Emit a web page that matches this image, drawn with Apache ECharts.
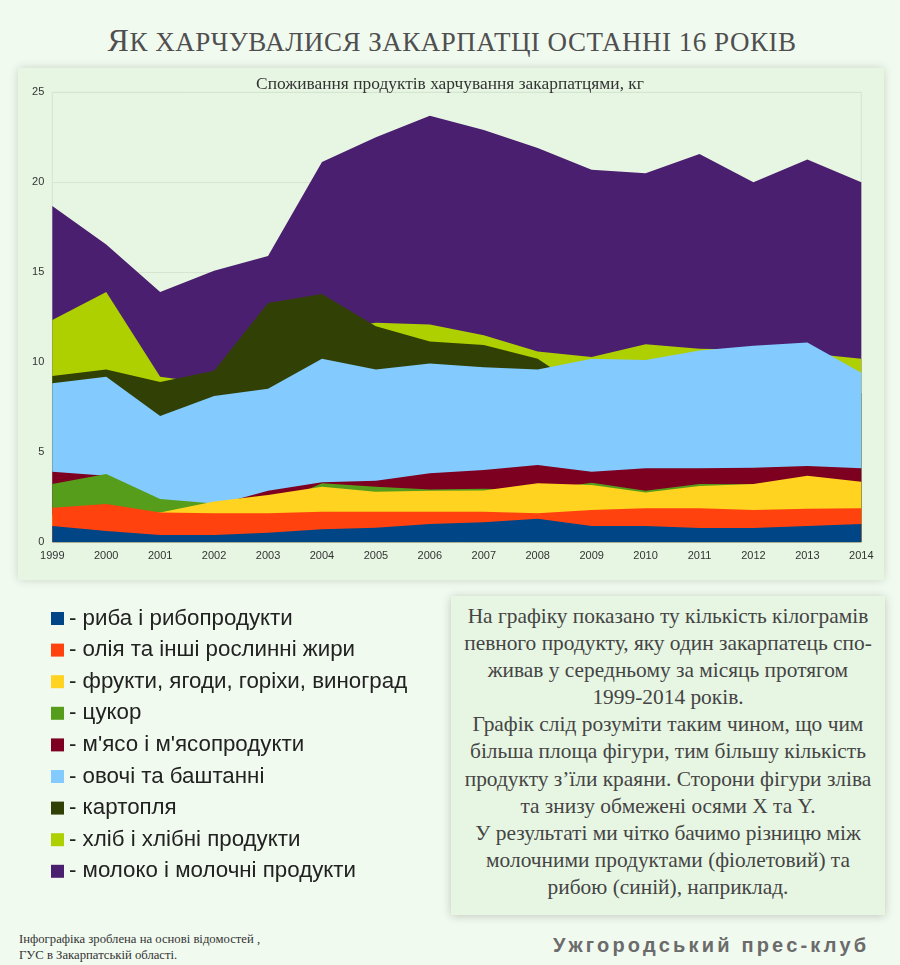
<!DOCTYPE html>
<html>
<head>
<meta charset="utf-8">
<script src="https://cdn.jsdelivr.net/npm/echarts@6/dist/echarts.min.js"></script>
<style>
  html, body { margin:0; padding:0; background:#f1faef; }
  body { width:900px; height:965px; position:relative; overflow:hidden; }
  #title { position:absolute; left:0; width:904px; top:20px; text-align:center; font-family:"Liberation Serif","DejaVu Serif",serif; color:#4f4f4f; line-height:40px; white-space:nowrap; letter-spacing:0.5px; }
  #title .big { font-size:32px; }
  #title .rest { font-size:27px; text-transform:uppercase; }
  #panel { position:absolute; left:18px; top:68px; width:866px; height:512px; background:#e7f6e3; box-shadow:0 0 10px rgba(0,0,0,0.16); border-radius:2px; }
  #note { position:absolute; left:451px; top:596px; width:434px; height:319px; background:#e7f6e3; box-shadow:0 1px 9px rgba(0,0,0,0.2); }
  #note div { position:absolute; left:0; width:434px; top:7px; text-align:center; font-family:"Liberation Serif","DejaVu Serif",serif; font-size:21.4px; line-height:27.1px; color:#444; white-space:nowrap; }
  #chart { position:absolute; left:0; top:0; width:900px; height:965px; }
  #src { position:absolute; left:19px; top:931px; font-family:"Liberation Serif",serif; font-size:12.7px; line-height:16px; color:#333; }
  #brand { position:absolute; left:553px; top:934px; font-family:"Liberation Sans",Arial,sans-serif; font-weight:bold; font-size:20px; letter-spacing:3.2px; color:#6b6b6b; white-space:nowrap; }
</style>
</head>
<body>
<div id="title"><span class="big">Я</span><span class="rest">к харчувалися закарпатці останні 16 років</span></div>
<div id="panel"></div>
<div id="note"><div>На графіку показано ту кількість кілограмів<br>певного продукту, яку один закарпатець спо-<br>живав у середньому за місяць протягом<br>1999-2014 років.<br>Графік слід розуміти таким чином, що чим<br>більша площа фігури, тим більшу кількість<br>продукту з’їли краяни. Сторони фігури зліва<br>та знизу обмежені осями X та Y.<br>У результаті ми чітко бачимо різницю між<br>молочними продуктами (фіолетовий) та<br>рибою (синій), наприклад.</div></div>
<div id="src">Інфографіка зроблена на основі відомостей ,<br>ГУС в Закарпатській області.</div>
<div id="brand">Ужгородський прес-клуб</div>
<div id="chart"></div>
<script>
// Categories (years)
const years = ['1999','2000','2001','2002','2003','2004','2005','2006','2007','2008','2009','2010','2011','2012','2013','2014'];

// Series values, kg per month per person (overlapping areas, not stacked)
const milk   = [18.68, 16.55, 13.90, 15.09, 15.90, 21.13, 22.50, 23.70, 22.90, 21.90, 20.70, 20.50, 21.57, 20.00, 21.27, 20.00];
const bread  = [12.35, 13.90, 9.20, 8.80, 10.50, 11.80, 12.20, 12.10, 11.50, 10.60, 10.30, 11.00, 10.75, 10.70, 10.50, 10.20];
const potato = [9.24, 9.60, 8.90, 9.53, 13.30, 13.80, 12.00, 11.15, 10.96, 10.20, 8.20, 8.40, 8.60, 8.50, 8.40, 8.30];
const veg    = [8.83, 9.20, 7.02, 8.13, 8.53, 10.20, 9.60, 9.94, 9.72, 9.60, 10.20, 10.13, 10.65, 10.92, 11.10, 9.42];
const meat   = [3.92, 3.70, 2.20, 2.04, 2.87, 3.33, 3.42, 3.83, 4.02, 4.29, 3.92, 4.11, 4.11, 4.14, 4.24, 4.11];
const sugar  = [3.24, 3.79, 2.40, 2.15, 1.96, 3.28, 3.09, 2.94, 2.97, 2.89, 3.31, 2.87, 3.24, 3.22, 3.20, 3.10];
const fruit  = [1.50, 1.60, 1.65, 2.26, 2.63, 3.09, 2.81, 2.87, 2.88, 3.28, 3.18, 2.76, 3.13, 3.24, 3.70, 3.37];
const oil    = [1.92, 2.13, 1.65, 1.62, 1.62, 1.70, 1.70, 1.70, 1.70, 1.61, 1.79, 1.89, 1.89, 1.79, 1.87, 1.89];
const fish   = [0.91, 0.63, 0.40, 0.40, 0.53, 0.72, 0.81, 1.02, 1.11, 1.31, 0.91, 0.91, 0.79, 0.79, 0.91, 1.02];

// Names (legend order: fish first)
const names = ['риба і рибопродукти','олія та інші рослинні жири','фрукти, ягоди, горіхи, виноград','цукор',"м'ясо і м'ясопродукти",'овочі та баштанні','картопля','хліб і хлібні продукти','молоко і молочні продукти'];
const colors = ['#004586','#ff420e','#ffd320','#579d1c','#7e0021','#83caff','#314004','#aecf00','#4b1f6f'];
const values = [fish, oil, fruit, sugar, meat, veg, potato, bread, milk];

const yTicks = { min: 0, max: 25, interval: 5 };

const series = [];
for (let i = values.length - 1; i >= 0; i--) {
  series.push({
    name: names[i],
    type: 'line',
    data: values[i],
    showSymbol: false,
    symbol: 'none',
    lineStyle: { width: 0, color: colors[i] },
    itemStyle: { color: colors[i] },
    areaStyle: { color: colors[i], opacity: 1 },
    silent: true,
    animation: false
  });
}

const chart = echarts.init(document.getElementById('chart'), null, { renderer: 'canvas' });
chart.setOption({
  backgroundColor: 'transparent',
  animation: false,
  title: {
    text: 'Споживання продуктів харчування закарпатцями, кг',
    left: 'center',
    top: 71,
    textStyle: { fontFamily: 'Liberation Serif', fontSize: 17.4, fontWeight: 'normal', color: '#333' }
  },
  legend: {
    orient: 'vertical',
    left: 46,
    top: 602.5,
    itemWidth: 13,
    itemHeight: 13,
    itemGap: 9.6,
    icon: 'rect',
    selectedMode: false,
    data: names,
    formatter: n => '- ' + n,
    textStyle: { fontFamily: 'Liberation Sans', fontSize: 22.3, lineHeight: 22, color: '#222' }
  },
  grid: { left: 52.3, right: 38.7, top: 92.3, bottom: 422.7, show: true, borderColor: '#d6e4d2', borderWidth: 1, backgroundColor: 'transparent' },
  xAxis: {
    type: 'category',
    data: years,
    boundaryGap: false,
    axisLine: { show: false },
    axisTick: { show: false },
    axisLabel: { interval: 0, margin: 8, fontFamily: 'Liberation Sans', fontSize: 11, color: '#333' },
    splitLine: { show: false }
  },
  yAxis: {
    type: 'value',
    min: yTicks.min, max: yTicks.max, interval: yTicks.interval,
    axisLine: { show: false },
    axisTick: { show: false },
    axisLabel: { margin: 8, fontFamily: 'Liberation Sans', fontSize: 11, color: '#333' },
    splitLine: { show: true, lineStyle: { color: '#d6e4d2', width: 1 } }
  },
  series: series
});
</script>
</body>
</html>
